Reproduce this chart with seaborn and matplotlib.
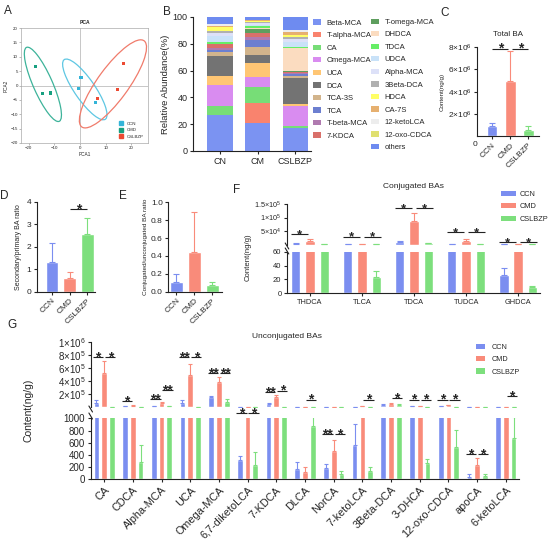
import numpy as np
import pandas as pd
import matplotlib
matplotlib.use("Agg")
import matplotlib.pyplot as plt
import seaborn as sns
from matplotlib.patches import Ellipse, Patch
from matplotlib.lines import Line2D

# ---------------- data ----------------
groups = ["CCN", "CMD", "CSLBZP"]
group_colors = ["#7B8EF0", "#F98B7A", "#7DDF7D"]

# A: PCA scores
pca_colors = ["#33B4D8", "#17A080", "#EC4A33"]
ellipse_colors = ["#5EC7E3", "#3DB39A", "#F07B6B"]
pca1_ccn = [0.4, -0.7, 5.9]
pca2_ccn = [2.7, -0.9, -5.9]
pca1_cmd = [-17.3, -14.7, -11.4]
pca2_cmd = [6.5, -2.7, -2.6]
pca1_cslbzp = [17.0, 14.7, 6.8]
pca2_cslbzp = [7.6, -1.5, -4.4]

# B: relative abundance (%)
stack_groups = ["CN", "CM", "CSLBZP"]
ba_names = ["Beta-MCA", "T-alpha-MCA", "CA", "Omega-MCA", "UCA", "DCA", "TCA-3S",
            "TCA", "T-beta-MCA", "7-KDCA", "T-omega-MCA", "DHDCA", "TDCA", "UDCA",
            "Alpha-MCA", "3Beta-DCA", "HDCA", "CA-7S", "12-ketoLCA", "12-oxo-CDCA", "others"]
ba_colors = ["#7B93F2", "#F9836E", "#77DD77", "#D98CF0", "#FFC674", "#737373", "#D2B48C",
             "#6C7FD0", "#B07AB0", "#D9706A", "#5E9E5E", "#FBDCC0", "#66EE66", "#C9E2F8",
             "#DDE1F8", "#B0B0B0", "#FFFF66", "#E6B070", "#EDEDED", "#E0E070", "#6E8BF0"]
cn_pct = [26.8, 0.2, 6.8, 15.5, 6.8, 14.5, 3.2, 1.5, 1.2, 3.0, 0.3, 0.3, 1.2, 4.5,
          2.0, 1.8, 2.7, 1.0, 1.2, 0.3, 5.2]
cm_pct = [21.2, 14.8, 11.5, 8.0, 10.5, 5.8, 5.7, 5.0, 2.5, 3.0, 3.0, 0.5, 1.5, 1.2,
          1.2, 0.8, 1.0, 0.3, 0.3, 0.2, 2.0]
cslbzp_pct = [17.2, 0.1, 1.5, 14.8, 1.4, 19.7, 1.2, 1.5, 1.0, 0.8, 0.2, 17.5, 0.8, 3.5,
              2.5, 1.2, 1.5, 2.5, 1.2, 0.5, 9.4]

# C: total BA
total_ba = [0.92e6, 5.0e6, 0.54e6]
total_ba_sd = [0.25e6, 2.7e6, 0.36e6]

# D, E: ratios
sec_prim_ratio = [1.32, 0.60, 2.57]
sec_prim_sd = [0.83, 0.26, 0.70]
conj_unconj_ratio = [0.11, 0.445, 0.07]
conj_unconj_sd = [0.09, 0.445, 0.04]

# F: conjugated BAs (ng/g)
conj_names = ["THDCA", "TLCA", "TDCA", "TUDCA", "GHDCA"]
conj_ccn = [3000, 500, 9000, 2500, 26]
conj_ccn_sd = [1000, 200, 3000, 1000, 11]
conj_cmd = [14000, 900, 87000, 14000, 700]
conj_cmd_sd = [7000, 300, 28000, 6000, 200]
conj_cslbzp = [1200, 23, 4000, 1000, 9.5]
conj_cslbzp_sd = [300, 9, 1000, 300, 0.3]
conj_sig = [(0, 0, 1, "*", "u", 3.8e4), (1, 0, 1, "*", "u", 2.9e4), (1, 1, 2, "*", "u", 2.9e4),
            (2, 0, 1, "*", "u", 1.34e5), (2, 1, 2, "*", "u", 1.34e5),
            (3, 0, 1, "*", "u", 4.7e4), (3, 1, 2, "*", "u", 4.7e4),
            (4, 0, 1, "*", "u", 1.0e4), (4, 1, 2, "*", "u", 1.0e4)]

# G: unconjugated BAs (ng/g)
unconj_names = ["CA", "CDCA", "Alpha-MCA", "UCA", "Omega-MCA", "6,7-diketoLCA", "7-KDCA",
                "DLCA", "NorCA", "7-ketoLCA", "3Beta-DCA", "3-DHCA", "12-oxo-CDCA", "apoCA",
                "6-ketoLCA"]
unconj_ccn = [6e4, 8e3, 1.5e4, 6e4, 1.55e5, 320, 4.5e4, 165, 180, 560, 3.5e4, 8e3, 1e4, 40, 5e3]
unconj_ccn_sd = [5e4, 4e3, 5e3, 5e4, 1e4, 55, 1.5e4, 115, 65, 340, 5e3, 2e3, 3e3, 40, 2e3]
unconj_cmd = [5.3e5, 2e4, 6e4, 5.0e5, 3.8e5, 3e3, 1.5e5, 120, 465, 8e3, 5e4, 1.5e4, 2.5e4, 240, 5e3]
unconj_cmd_sd = [1.8e5, 5e3, 1e4, 1.6e5, 8e4, 1e3, 3e4, 80, 175, 2e3, 1e4, 5e3, 5e3, 105, 2e3]
unconj_cslbzp = [5e3, 290, 1e4, 5e3, 7.7e4, 235, 3e3, 870, 95, 130, 3.5e4, 270, 535, 50, 680]
unconj_cslbzp_sd = [2e3, 265, 3e3, 2e3, 5.3e4, 210, 1e3, 180, 35, 65, 5e3, 70, 275, 40, 340]
unconj_sig = [(0, 0, 1, "*", "u", 7.7e5), (0, 1, 2, "*", "u", 7.7e5),
              (1, 0, 1, "*", "u", 0.88e5),
              (2, 0, 1, "**", "u", 1.23e5), (2, 1, 2, "**", "u", 2.57e5),
              (3, 0, 1, "**", "u", 7.65e5), (3, 1, 2, "*", "u", 7.65e5),
              (4, 0, 1, "**", "u", 5.2e5), (4, 1, 2, "**", "u", 5.2e5),
              (5, 0, 1, "*", "l", 1082), (5, 1, 2, "*", "l", 1082),
              (6, 0, 1, "**", "u", 2.3e5), (6, 1, 2, "*", "u", 2.5e5),
              (7, 1, 2, "*", "u", 1.12e5),
              (8, 0, 1, "**", "l", 738), (8, 1, 2, "*", "l", 738),
              (9, 1, 2, "*", "u", 1.12e5),
              (10, 1, 2, "*", "u", 1.38e5),
              (11, 0, 1, "*", "u", 1.12e5), (11, 1, 2, "*", "u", 1.12e5),
              (12, 0, 1, "*", "u", 1.12e5), (12, 1, 2, "*", "u", 1.12e5),
              (13, 0, 1, "*", "l", 415), (13, 1, 2, "*", "l", 415),
              (14, 1, 2, "*", "u", 1.65e5)]

# ---------------- style ----------------
sns.set_theme(style="ticks")
plt.rcParams['font.family'] = ['Liberation Sans', 'DejaVu Sans']
plt.rcParams['mathtext.fontset'] = 'custom'
plt.rcParams['mathtext.rm'] = 'Liberation Sans'
plt.rcParams['mathtext.it'] = 'Liberation Sans:italic'
plt.rcParams['mathtext.bf'] = 'Liberation Sans:bold'
plt.rcParams['axes.linewidth'] = 0.8
plt.rcParams['xtick.major.width'] = 0.8
plt.rcParams['ytick.major.width'] = 0.8
plt.rcParams['xtick.major.size'] = 2.5
plt.rcParams['ytick.major.size'] = 2.5
plt.rcParams['xtick.major.pad'] = 1.5
plt.rcParams['ytick.major.pad'] = 1.5
plt.rcParams['axes.edgecolor'] = '#222222'

W, H = 550, 542
fig = plt.figure(figsize=(5.5, 5.42), dpi=100)


def add_ax(l, t, r, b):
    return fig.add_axes([l / W, 1 - b / H, (r - l) / W, (b - t) / H])


def ftext(x, y, s, **kw):
    fig.text(x / W, 1 - y / H, s, **kw)


def panel_letter(x, y, s):
    ftext(x, y, s, fontsize=8.5, ha='left', va='center')


def sig_mark(ax, x1, x2, y, label, fs, lw=0.8):
    ax.plot([x1, x2], [y, y], color='#222222', lw=lw, clip_on=False, solid_capstyle='butt')
    ax.annotate(label, ((x1 + x2) / 2, y), xytext=(0, -fs * 0.3), textcoords='offset points',
                ha='center', va='baseline', fontsize=fs, fontweight='bold', annotation_clip=False)


def pair_span(gi, a, b, spacing, half_w, gap):
    ca = gi + (a - 1) * spacing
    cb = gi + (b - 1) * spacing
    x1 = ca - half_w if a == 0 else ca + gap
    x2 = cb + half_w if b == 2 else cb - gap
    return x1, x2


def err_bars(ax, xs, vals, sds, color, cap, lw=0.8):
    for x, v, s in zip(xs, vals, sds):
        ax.errorbar(x, v, yerr=[[0], [s]], fmt='none', ecolor=color, elinewidth=lw,
                    capsize=cap, capthick=lw, clip_on=True)


# ---------------- A: PCA ----------------
axA = add_ax(21, 28, 148, 143)
pca_df = pd.DataFrame({
    'PCA1': pca1_ccn + pca1_cmd + pca1_cslbzp,
    'PCA2': pca2_ccn + pca2_cmd + pca2_cslbzp,
    'group': ['CCN'] * 3 + ['CMD'] * 3 + ['CSLBZP'] * 3})
axA.axhline(0, color='#b0b0b0', lw=0.5, zorder=0)
axA.axvline(0, color='#b0b0b0', lw=0.5, zorder=0)
sns.scatterplot(data=pca_df, x='PCA1', y='PCA2', hue='group', hue_order=groups,
                palette=pca_colors, marker='s', s=5, linewidth=0, ax=axA, legend=False)
for xs, ys, c in [(pca1_ccn, pca2_ccn, ellipse_colors[0]), (pca1_cmd, pca2_cmd, ellipse_colors[1]),
                  (pca1_cslbzp, pca2_cslbzp, ellipse_colors[2])]:
    cov = np.cov(xs, ys)
    vals, vecs = np.linalg.eigh(cov)
    order = vals.argsort()[::-1]
    vals, vecs = vals[order], vecs[:, order]
    ang = np.degrees(np.arctan2(vecs[1, 0], vecs[0, 0]))
    k = np.sqrt(5.991)
    axA.add_patch(Ellipse((np.mean(xs), np.mean(ys)), 2 * k * np.sqrt(vals[0]), 2 * k * np.sqrt(vals[1]),
                          angle=ang, fill=False, edgecolor=c, lw=0.9))
axA.set_xlim(-23, 26.5)
axA.set_ylim(-20, 20)
axA.set_xticks([-20, -10, 0, 10, 20])
axA.set_yticks(list(range(-20, 21, 5)))
axA.tick_params(labelsize=3.2, length=1.2, width=0.4, color='#888888', pad=1)
for sp in axA.spines.values():
    sp.set_color('#aaaaaa')
    sp.set_linewidth(0.5)
axA.set_title('PCA', fontsize=3.6, fontweight='bold', pad=3)
axA.set_xlabel('PCA1', fontsize=3.4, labelpad=1.5)
axA.set_ylabel('PCA2', fontsize=3.4, labelpad=1.5)
axA.legend(handles=[Line2D([], [], marker='s', ls='none', color=c, markersize=2.2) for c in pca_colors],
           labels=groups, loc='lower right', fontsize=3.2, frameon=False, handletextpad=0.2,
           labelspacing=0.5, borderaxespad=0.6)

# ---------------- B: stacked abundance ----------------
axB = add_ax(193, 17, 311, 151)
bottoms = np.zeros(3)
stack = np.array([cn_pct, cm_pct, cslbzp_pct])
for i, (name, col) in enumerate(zip(ba_names, ba_colors)):
    axB.bar(np.arange(3), stack[:, i], bottom=bottoms, width=0.67, color=col, linewidth=0, label=name)
    bottoms += stack[:, i]
axB.set_xlim(-0.72, 2.42)
axB.set_ylim(0, 100)
axB.set_yticks([0, 20, 40, 60, 80, 100])
axB.set_xticks([0, 1, 2])
axB.set_xticklabels(stack_groups)
axB.tick_params(labelsize=6.5)
axB.set_ylabel('Relative Abundance(%)', fontsize=6.8, labelpad=2)
sns.despine(ax=axB)
hB = [Patch(facecolor=c, edgecolor='none') for c in ba_colors]
legB1 = fig.legend(hB[:10], ba_names[:10], loc='upper left', bbox_to_anchor=(313 / W, 1 - 19.5 / H),
                   fontsize=5.5, frameon=False, handlelength=1.1, handleheight=0.7,
                   handletextpad=0.7, labelspacing=0.68, borderpad=0, borderaxespad=0)
legB2 = fig.legend(hB[10:], ba_names[10:], loc='upper left', bbox_to_anchor=(371 / W, 1 - 18.5 / H),
                   fontsize=5.5, frameon=False, handlelength=1.1, handleheight=0.7,
                   handletextpad=0.7, labelspacing=0.68, borderpad=0, borderaxespad=0)

# ---------------- simple 3-bar panels ----------------
def simple_panel(ax, vals, sds, width, cap):
    sns.barplot(x=groups, y=vals, hue=groups, palette=group_colors, width=width,
                saturation=1, legend=False, ax=ax, errorbar=None)
    for j in range(3):
        err_bars(ax, [j], [vals[j]], [sds[j]], group_colors[j], cap)
    ax.set_xticks([0, 1, 2])
    ax.set_xticklabels(groups, rotation=45, ha='right', rotation_mode='anchor', fontsize=6)
    sns.despine(ax=ax)


# C
axC = add_ax(477.3, 47.3, 539.3, 136)
simple_panel(axC, total_ba, total_ba_sd, 0.6, 2.2)
axC.set_xlim(-0.81, 2.6)
axC.set_ylim(0, 8e6)
axC.set_yticks([2e6, 4e6, 6e6, 8e6])
axC.set_yticklabels([r'$2{\times}10^6$', r'$4{\times}10^6$', r'$6{\times}10^6$', r'$8{\times}10^6$'])
axC.tick_params(axis='y', labelsize=6)
axC.set_ylabel('Content(ng/g)', fontsize=4.5, labelpad=2)
axC.set_title('Total BA', fontsize=5.8, pad=8)
ftext(475, 144, '0', fontsize=6, ha='center', va='center')
sig_mark(axC, 0.0, 0.9, 7.87e6, '*', 10)
sig_mark(axC, 1.1, 2.0, 7.87e6, '*', 10)

# D
axD = add_ax(36.7, 201.7, 95, 291.7)
simple_panel(axD, sec_prim_ratio, sec_prim_sd, 0.72, 2.2)
axD.set_xlim(-0.86, 2.43)
axD.set_ylim(0, 4)
axD.set_yticks([0, 1, 2, 3, 4])
axD.tick_params(axis='y', labelsize=6)
axD.set_ylabel('Secondary/primary BA ratio', fontsize=5, labelpad=3)
sig_mark(axD, 1.0, 2.0, 3.68, '*', 10)

# E
axE = add_ax(168.3, 202.3, 222, 291.7)
simple_panel(axE, conj_unconj_ratio, conj_unconj_sd, 0.72, 2.0)
axE.set_xlim(-0.45, 2.55)
axE.set_ylim(0, 1.0)
axE.set_yticks([0, 0.2, 0.4, 0.6, 0.8, 1.0])
axE.set_yticklabels(['0.0', '0.2', '0.4', '0.6', '0.8', '1.0'])
axE.tick_params(axis='y', labelsize=6)
axE.set_ylabel('Conjugated/unconjugated BA ratio', fontsize=4.6, labelpad=2)


# ---------------- broken grouped panels ----------------
def broken_panel(ax_u, ax_l, cats, means, sds, width, gap, cap, lw=0.8):
    rows = []
    for g, vals in zip(groups, means):
        for c, v in zip(cats, vals):
            rows.append((c, g, v))
    df = pd.DataFrame(rows, columns=['cat', 'group', 'value'])
    for ax in (ax_u, ax_l):
        sns.barplot(data=df, x='cat', y='value', hue='group', order=cats, hue_order=groups,
                    palette=group_colors, width=width, gap=gap, saturation=1, errorbar=None,
                    ax=ax, legend=False)
        for j in range(3):
            xs = np.arange(len(cats)) + (j - 1) * width / 3
            err_bars(ax, xs, means[j], sds[j], group_colors[j], cap, lw)
        ax.set_xlabel('')
        ax.set_ylabel('')
    sns.despine(ax=ax_l)
    for sp in ['top', 'right', 'bottom']:
        ax_u.spines[sp].set_visible(False)
    ax_u.tick_params(axis='x', bottom=False, labelbottom=False)


def break_marks(x, y_up, y_low, size=3.0):
    for y in (y_up, y_low):
        fig.add_artist(Line2D([(x - size * 0.6) / W, (x + size * 0.6) / W],
                              [1 - (y - size) / H, 1 - (y + size) / H],
                              color='#222222', lw=0.8, transform=fig.transFigure))


# F
axFu = add_ax(287, 204, 540, 244.5)
axFl = add_ax(287, 252, 540, 293)
broken_panel(axFu, axFl, conj_names, [conj_ccn, conj_cmd, conj_cslbzp],
             [conj_ccn_sd, conj_cmd_sd, conj_cslbzp_sd], 0.825, 0.345, 2.3)
for ax in (axFu, axFl):
    ax.set_xlim(-0.44, 4.42)
axFu.set_ylim(0, 1.5e5)
axFl.set_ylim(0, 60)
axFu.set_yticks([5e4, 1e5, 1.5e5])
axFu.set_yticklabels([r'$5{\times}10^4$', r'$1{\times}10^5$', r'$1.5{\times}10^5$'])
axFl.set_yticks([0, 20, 40, 60])
axFu.tick_params(axis='y', labelsize=5.2)
axFl.tick_params(axis='y', labelsize=5.5)
axFl.tick_params(axis='x', labelsize=5.3)
break_marks(287, 246, 251)
ftext(248.3, 256.7, 'Content(ng/g)', fontsize=5.6, rotation=90, ha='center', va='center')
ftext(413, 187, 'Conjugated BAs', fontsize=6, ha='center', va='center')
sp_f = 0.825 / 3
for gi, a, b, lab, which, yv in conj_sig:
    x1, x2 = pair_span(gi, a, b, sp_f, 0.09, 0.035)
    sig_mark(axFu if which == 'u' else axFl, x1, x2, yv, lab, 9.5)
fig.legend([Patch(facecolor=c, edgecolor='none') for c in group_colors], groups,
           loc='upper left', bbox_to_anchor=(501 / W, 1 - 191 / H), fontsize=5.3, frameon=False,
           handlelength=2.0, handleheight=0.7, handletextpad=0.5, labelspacing=0.7,
           borderpad=0, borderaxespad=0)

# G
axGu = add_ax(90.7, 342, 519, 407)
axGl = add_ax(90.7, 418.3, 519, 479.3)
broken_panel(axGu, axGl, unconj_names, [unconj_ccn, unconj_cmd, unconj_cslbzp],
             [unconj_ccn_sd, unconj_cmd_sd, unconj_cslbzp_sd], 0.81, 0.26, 1.5)
for ax in (axGu, axGl):
    ax.set_xlim(-0.47, 14.46)
axGu.set_ylim(0, 1e6)
axGl.set_ylim(0, 1000)
axGu.set_yticks([2e5, 4e5, 6e5, 8e5, 1e6])
axGu.set_yticklabels([r'$2{\times}10^5$', r'$4{\times}10^5$', r'$6{\times}10^5$',
                      r'$8{\times}10^5$', r'$1{\times}10^6$'])
axGl.set_yticks([0, 200, 400, 600, 800, 1000])
axGu.tick_params(axis='y', labelsize=7)
axGl.tick_params(axis='y', labelsize=7)
axGl.set_xticks(np.arange(len(unconj_names)))
axGl.set_xticklabels(unconj_names, rotation=45, ha='right', rotation_mode='anchor', fontsize=7.8)
break_marks(90.7, 409, 416)
ftext(29, 410, 'Content(ng/g)', fontsize=7.5, rotation=90, ha='center', va='center')
ftext(287, 336, 'Unconjugated BAs', fontsize=6, ha='center', va='center')
sp_g = 0.81 / 3
for gi, a, b, lab, which, yv in unconj_sig:
    x1, x2 = pair_span(gi, a, b, sp_g, 0.12, 0.03)
    sig_mark(axGu if which == 'u' else axGl, x1, x2, yv, lab, 10)
fig.legend([Patch(facecolor=c, edgecolor='none') for c in group_colors], groups,
           loc='upper left', bbox_to_anchor=(476 / W, 1 - 343.5 / H), fontsize=5.2, frameon=False,
           handlelength=1.3, handleheight=0.7, handletextpad=0.9, labelspacing=0.75,
           borderpad=0, borderaxespad=0)

# panel letters
panel_letter(4, 11, 'A')
panel_letter(163, 12, 'B')
panel_letter(440, 13, 'C')
panel_letter(0, 196, 'D')
panel_letter(119, 196, 'E')
panel_letter(233, 190, 'F')
panel_letter(7, 325, 'G')

fig.savefig('out.png', dpi=100)
